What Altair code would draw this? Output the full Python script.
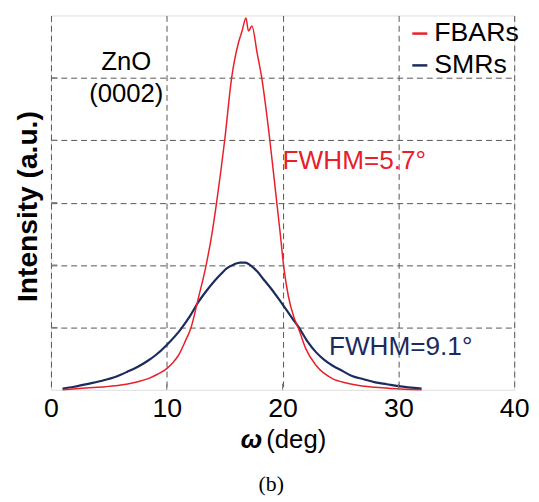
import altair as alt
import pandas as pd

# FBARs rocking curve
fbar_x = [1.0, 3.0, 4.7, 6.5, 7.5, 8.4, 9.2, 10.0, 10.5, 11.0, 11.6, 12.1, 12.7, 13.4, 13.9,
          14.3, 15.0, 15.6, 16.2, 16.5, 16.84, 17.05, 17.35, 17.8, 18.2, 18.9, 19.5, 19.8,
          20.1, 20.5, 21.0, 21.4, 22.0, 22.9, 24.3, 25.5, 26.6, 28.0, 29.4, 32.0]
fbar_y = [0.0, 0.03, 0.05, 0.09, 0.13, 0.18, 0.25, 0.34, 0.43, 0.55, 0.78, 1.0, 1.45, 2.0, 2.5,
          3.0, 4.0, 5.0, 5.57, 5.75, 5.96, 5.75, 5.83, 5.4, 5.0, 4.0, 3.0, 2.5,
          1.97, 1.5, 1.15, 0.97, 0.66, 0.39, 0.18, 0.11, 0.07, 0.04, 0.02, 0.0]

# SMRs rocking curve
smr_x = [1.0, 2.0, 3.3, 4.5, 5.6, 6.6, 7.5, 8.4, 9.0, 10.0, 11.2, 12.0, 12.7, 13.4, 14.1,
         14.7, 15.2, 15.8, 16.35, 16.8, 17.2, 17.8, 18.4, 19.1, 19.8, 20.9, 21.4, 22.1,
         22.9, 23.6, 24.3, 25.2, 26.0, 27.0, 28.0, 29.0, 30.0, 32.0]
smr_y = [0.02, 0.05, 0.1, 0.15, 0.21, 0.29, 0.37, 0.47, 0.55, 0.72, 0.97, 1.18, 1.40, 1.58, 1.74,
         1.86, 1.95, 2.01, 2.04, 2.04, 2.0, 1.9, 1.76, 1.6, 1.42, 1.13, 1.0, 0.79,
         0.6, 0.48, 0.39, 0.3, 0.22, 0.17, 0.12, 0.09, 0.06, 0.02]

series_names = ["FBARs", "SMRs"]
series_colors = ["#e8202a", "#1b2b5e"]

x_ticks = [0, 10, 20, 30, 40]
y_grid = [1, 2, 3, 4, 5]

fbar_df = pd.DataFrame({"omega": fbar_x, "intensity": fbar_y, "series": "FBARs",
                        "order": range(len(fbar_x))})
smr_df = pd.DataFrame({"omega": smr_x, "intensity": smr_y, "series": "SMRs",
                       "order": range(len(smr_x))})

xscale = alt.Scale(domain=[0, 40], nice=False, zero=False)
yscale = alt.Scale(domain=[0, 6], nice=False, zero=False)
color_scale = alt.Scale(domain=series_names, range=series_colors)

FONT = "Liberation Sans"

# axes / grid carrier layer (SMRs line)
axes = alt.Chart(smr_df).mark_line(strokeWidth=2.2, interpolate="monotone",
                                   color=series_colors[1]).encode(
    x=alt.X("omega:Q", scale=xscale,
            axis=alt.Axis(values=x_ticks, title=None, labelFontSize=27, labelFont=FONT,
                          labelColor="black", labelPadding=6, ticks=False, domain=False,
                          grid=True, gridDash=[6, 4], gridColor="#555555", gridWidth=1,
                          labelFlush=False)),
    y=alt.Y("intensity:Q", scale=yscale,
            axis=alt.Axis(values=y_grid, labels=False, ticks=False, domain=False,
                          grid=True, gridDash=[6, 4], gridColor="#555555", gridWidth=1,
                          title="Intensity (a.u.)", titleFont=FONT, titleFontSize=28.5,
                          titleFontWeight="bold", titleColor="black", titlePadding=9,
                          titleY=193)),
    order="order:Q",
)

fbar_line = alt.Chart(fbar_df).mark_line(strokeWidth=1.5, interpolate="monotone",
                                         color=series_colors[0]).encode(
    x=alt.X("omega:Q", scale=xscale), y=alt.Y("intensity:Q", scale=yscale), order="order:Q")

# inward ticks
ytick_df = pd.DataFrame({"y": y_grid, "x0": [0] * 5, "x1": [0.55] * 5})
yticks = alt.Chart(ytick_df).mark_rule(color="#777777", strokeWidth=1).encode(
    x=alt.X("x0:Q", scale=xscale), x2="x1:Q", y=alt.Y("y:Q", scale=yscale))
xtick_df = pd.DataFrame({"x": [10, 20, 30], "y0": [0] * 3, "y1": [0.1] * 3})
xticks = alt.Chart(xtick_df).mark_rule(color="#777777", strokeWidth=1).encode(
    x=alt.X("x:Q", scale=xscale), y=alt.Y("y0:Q", scale=yscale), y2="y1:Q")

# legend
leg_df = pd.DataFrame({"series": series_names, "x0": [31.2, 31.2], "x1": [32.5, 32.5],
                       "y": [5.71, 5.2], "tx": [33.1, 33.1]})
leg_lines = alt.Chart(leg_df).mark_rule(strokeWidth=2.5).encode(
    x=alt.X("x0:Q", scale=xscale), x2="x1:Q", y=alt.Y("y:Q", scale=yscale),
    color=alt.Color("series:N", scale=color_scale, legend=None))
leg_text = alt.Chart(leg_df).mark_text(align="left", baseline="middle", fontSize=27,
                                       font=FONT, color="black").encode(
    x=alt.X("tx:Q", scale=xscale), y=alt.Y("y:Q", scale=yscale), text="series:N")

# annotations
ann_df = pd.DataFrame({"x": [6.5, 6.5], "y": [5.25, 4.74], "t": ["ZnO", "(0002)"]})
ann = alt.Chart(ann_df).mark_text(align="center", baseline="middle", fontSize=26,
                                  font=FONT, color="black").encode(
    x=alt.X("x:Q", scale=xscale), y=alt.Y("y:Q", scale=yscale), text="t:N")

fw_df = pd.DataFrame({"x": [20.0, 24.0], "y": [3.67, 0.68],
                      "t": ["FWHM=5.7°", "FWHM=9.1°"], "series": series_names})
fw = alt.Chart(fw_df).mark_text(align="left", baseline="middle", fontSize=26.5,
                                font=FONT).encode(
    x=alt.X("x:Q", scale=xscale), y=alt.Y("y:Q", scale=yscale), text="t:N",
    color=alt.Color("series:N", scale=color_scale, legend=None))

# x axis title (omega bold italic) and caption
omega = alt.Chart(pd.DataFrame({"t": ["ω"]})).mark_text(
    align="center", baseline="alphabetic", fontSize=26, font=FONT, fontWeight="bold",
    fontStyle="italic", color="black").encode(x=alt.value(203), y=alt.value(438), text="t:N")
deg = alt.Chart(pd.DataFrame({"t": ["(deg)"]})).mark_text(
    align="left", baseline="alphabetic", fontSize=26, font=FONT, color="black").encode(
    x=alt.value(218), y=alt.value(438), text="t:N")
cap = alt.Chart(pd.DataFrame({"t": ["(b)"]})).mark_text(
    align="center", baseline="alphabetic", fontSize=22, font="Liberation Serif",
    color="black").encode(x=alt.value(223), y=alt.value(481), text="t:N")

chart = alt.layer(axes, fbar_line, yticks, xticks, leg_lines, leg_text, ann, fw,
                  omega, deg, cap).properties(
    width=469, height=379,
    autosize=alt.AutoSizeParams(type="none"),
    padding={"left": 43.5, "top": 4.5, "right": 17, "bottom": 110.5},
).configure_view(stroke="#888888", strokeWidth=1.2).configure(background="white")

chart.save("out.html", embed_options={"renderer": "svg", "actions": False})
